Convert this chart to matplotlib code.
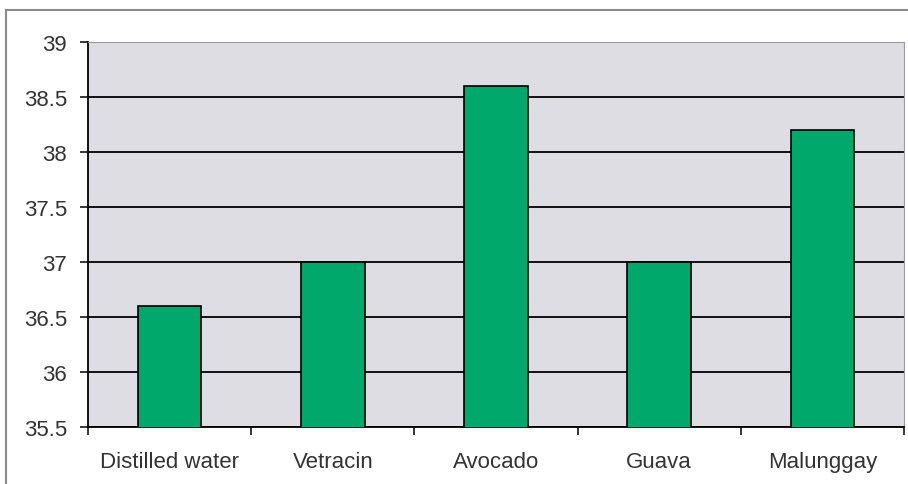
import matplotlib
matplotlib.use("Agg")
import matplotlib.pyplot as plt
from matplotlib.patches import Rectangle
import numpy as np

categories = ["Distilled water", "Vetracin", "Avocado", "Guava", "Malunggay"]
values = [36.6, 37.0, 38.6, 37.0, 38.2]
yticks = [35.5, 36, 36.5, 37, 37.5, 38, 38.5, 39]
ytick_labels = ["35.5", "36", "36.5", "37", "37.5", "38", "38.5", "39"]

plt.rcParams["font.family"] = ["Liberation Sans", "DejaVu Sans"]

fig = plt.figure(figsize=(9.08, 4.85), dpi=100)
ax = fig.add_axes([88/908, 1-428/485, (904-88)/908, (428-43)/485])

# outer chart frame
fig.patches.append(Rectangle((6/908, -0.2), 1.2, 0.2 + (1-11/485),
                             transform=fig.transFigure, fill=False,
                             edgecolor="#8a8a8a", linewidth=1.5))

ax.set_facecolor("#dedde3")
x = np.arange(len(categories))
ax.bar(x, values, width=0.39, bottom=0, color="#00a86b",
       edgecolor="black", linewidth=1.2, zorder=3)

ax.set_ylim(35.5, 39)
ax.set_xlim(-0.5, len(categories) - 0.5)
ax.set_yticks(yticks)
ax.set_yticklabels(ytick_labels, fontsize=16, color="#333333")
ax.set_xticks(x)
ax.set_xticklabels(categories, fontsize=16, color="#333333")
ax.set_xticks(np.arange(len(categories) + 1) - 0.5, minor=True)
ax.tick_params(axis="x", which="major", length=0, pad=17)
ax.tick_params(axis="x", which="minor", length=6, width=1.1, direction="out")
ax.tick_params(axis="y", length=6, width=1.1, direction="out", pad=9)

ax.grid(axis="y", color="black", linewidth=1.3, zorder=1)
ax.set_axisbelow(True)

ax.spines["left"].set_color("black")
ax.spines["bottom"].set_color("black")
ax.spines["left"].set_linewidth(1.3)
ax.spines["bottom"].set_linewidth(1.3)
ax.spines["top"].set_color("#9a9a9a")
ax.spines["right"].set_color("#9a9a9a")

fig.savefig("out.png", dpi=100)
